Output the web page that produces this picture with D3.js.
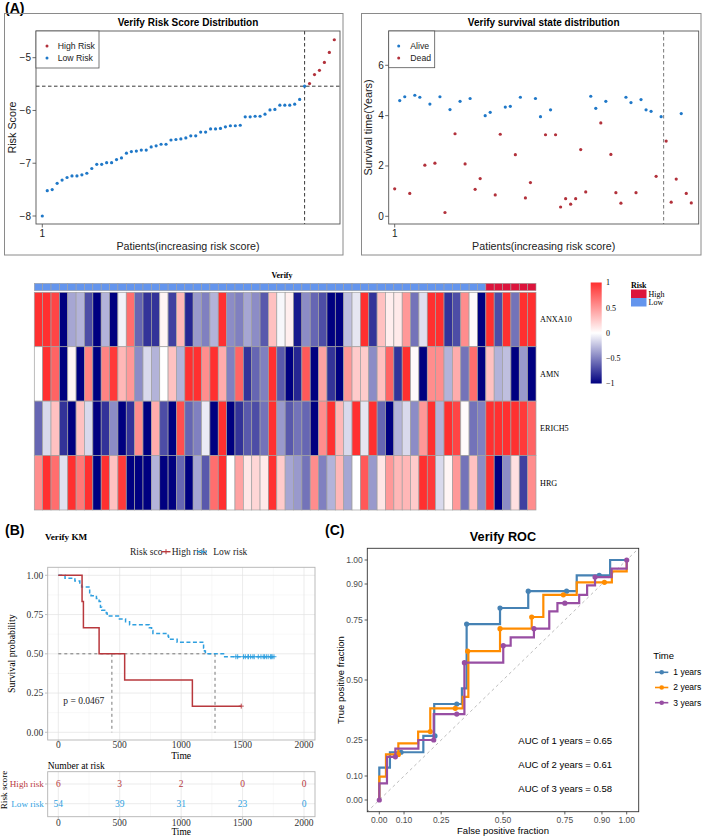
<!DOCTYPE html>
<html><head><meta charset="utf-8">
<script src="https://cdn.jsdelivr.net/npm/d3@7"></script>
<style>body{margin:0;background:#fff} svg{display:block}</style>
</head><body>
<svg id="c" width="702" height="836"></svg>
<script>
// ---------------- DATA ----------------
const riskScore = [-8.00,-7.52,-7.50,-7.38,-7.32,-7.27,-7.24,-7.24,-7.22,-7.19,
  -7.10,-7.02,-7.02,-6.99,-6.99,-6.93,-6.90,-6.81,-6.78,-6.77,
  -6.75,-6.75,-6.69,-6.67,-6.64,-6.64,-6.56,-6.55,-6.54,-6.52,
  -6.48,-6.48,-6.41,-6.41,-6.35,-6.35,-6.34,-6.31,-6.29,-6.29,
  -6.28,-6.12,-6.12,-6.11,-6.11,-6.07,-5.99,-5.98,-5.90,-5.90,
  -5.90,-5.88,-5.79,-5.54,-5.49,-5.32,-5.24,-5.09,-4.90,-4.66];
const lowRiskCount = 54;
const riskCutoff = -5.54;
const riskTicks = [-8,-7,-6,-5];
const survYears = [1.09,4.60,4.75,0.91,4.81,4.73,2.03,4.46,2.11,4.75,
  0.15,4.24,3.28,4.57,2.08,4.68,1.07,1.50,4.00,4.13,
  0.85,3.26,4.34,4.37,2.45,4.73,0.73,1.34,4.68,3.96,
  3.24,4.23,3.24,0.37,0.70,0.48,0.70,2.65,0.97,4.77,
  4.29,3.71,4.57,2.46,0.94,0.52,4.73,4.52,0.94,4.64,
  4.23,4.17,1.59,3.96,2.99,0.56,1.48,4.08,0.91,0.53];
const survStatus = [1,0,0,1,0,0,1,0,1,0, 1,0,1,0,1,0,1,1,0,0,
  1,1,0,0,1,0,1,1,0,0, 1,0,1,1,1,1,1,1,1,0,
  0,1,0,1,1,1,0,0,1,0, 0,0,1,0,1,1,1,0,1,1];
const survTicks = [0,2,4,6];

const genes = ["ANXA10","AMN","ERICH5","HRG"];
const exprANXA10 = [1,1,0.9,-1,-0.35,-0.3,-0.7,-1,-0.3,-1,-0.05,0.7,-0.6,-0.8,-0.8,0.05,-0.75,0.35,-0.85,-0.4,
  -0.5,-0.3,1,-0.45,-0.5,-0.35,-0.45,-0.65,0.3,-0.03,0.08,-0.9,-0.45,-0.6,-0.7,-1,-1,-0.25,-0.1,1,
  -0.8,0.3,0.08,0.1,0.5,-0.55,-0.12,1,1,-0.8,-0.7,0.55,0.02,-1,1,-0.7,1,-0.55,1,1];
const exprAMN = [0,1,0.75,-1,0.05,-1,0.6,-1,0.6,0.95,0.35,0.5,-0.45,-0.15,-0.3,0,0.3,-0.3,1,1,
  0.55,1,0.4,-0.5,0.75,-0.8,-0.6,-0.5,1,-0.65,-1,-0.85,0.8,-1,0.45,-0.8,-1,0.5,0.25,0.25,
  -0.45,0.3,0.75,-0.8,1,0.02,-1,0.55,0.55,-0.3,0.4,-0.55,0.7,-1,0.3,-0.3,-0.25,-1,-0.4,-1];
const exprERICH5 = [-0.6,-0.15,0.3,-0.8,-1,0.3,-0.15,-1,-0.8,-0.45,-1,-0.8,0.55,-1,0.4,-0.7,-1,0.85,-0.6,-0.5,
  -0.08,-1,1,-1,-0.8,-0.65,-0.7,-0.55,1,-0.4,-0.65,-0.55,-0.6,-1,0.55,1,0.35,-0.15,1,-0.1,
  1,-0.6,-1,-0.3,-0.15,-0.45,0.5,1,-0.3,1,0.9,0.02,-0.55,-0.5,1,1,1,1,0.95,0.75];
const exprHRG = [0.55,1,0.7,-0.12,1,0.65,1,-1,1,0.3,0.95,-1,-1,-1,-0.3,-1,-1,-0.6,-1,-0.35,
  -0.65,0.7,1,0,0.45,0.12,0.2,0.1,1,0.25,-0.35,-0.4,-0.55,0.55,-0.5,-0.3,0.35,-0.35,0,0.8,
  -0.4,0.12,0.5,0.35,0.35,0.25,1,0.95,-0.15,0.05,0.5,-0.55,0.3,-0.45,1,-1,-0.45,0.15,-0.75,0.55];
const legendTicks = [1,0.5,0,-0.5,-1];

const kmTicks = [0,500,1000,1500,2000];
const kmYTicks = [0,0.25,0.5,0.75,1];
const atRiskHigh = [6,3,2,0,0];
const atRiskLow = [54,39,31,23,0];
const pValueText = "p = 0.0467";
const daysPerYear = 365;

const rocTicks = [0,0.1,0.25,0.5,0.75,0.9,1];
const roc1Path = [[0,0],[0,0.135],[0.043,0.199],[0.178,0.267],[0.222,0.40],[0.334,0.465],[0.353,0.733],[0.488,0.80],[0.602,0.87],[0.798,0.936],[0.933,1.0],[1,1]];
const roc1Pts = [[0.088,0.199],[0.225,0.267],[0.313,0.40],[0.353,0.733],[0.488,0.80],[0.602,0.87],[0.757,0.87],[0.889,0.936]];
const roc2Path = [[0,0],[0,0.097],[0.027,0.19],[0.077,0.236],[0.157,0.285],[0.206,0.382],[0.337,0.43],[0.36,0.62],[0.488,0.714],[0.616,0.7625],[0.663,0.855],[0.798,0.907],[0.94,0.953],[1,1]];
const roc2Pts = [[0.077,0.19],[0.206,0.285],[0.307,0.382],[0.357,0.62],[0.488,0.714],[0.616,0.7625],[0.744,0.855],[0.91,0.907]];
const roc3Path = [[0,0],[0,0.069],[0.031,0.18],[0.065,0.214],[0.158,0.25],[0.22,0.358],[0.344,0.572],[0.501,0.643],[0.531,0.678],[0.625,0.714],[0.687,0.786],[0.72,0.82],[0.808,0.855],[0.84,0.894],[0.872,0.929],[0.939,0.964],[1,1]];
const roc3Pts = [[0,0],[0.065,0.18],[0.22,0.25],[0.313,0.358],[0.344,0.572],[0.501,0.643],[0.625,0.714],[0.75,0.82],[0.872,0.929],[1,1]];
const rocLabels = ["1 years","2 years","3 years"];
const aucValues = [0.65,0.61,0.58];

// ---------------- DRAW ----------------
const svg = d3.select("#c");
const SANS = "Liberation Sans, Arial, sans-serif";
const SERIF = "Liberation Serif, Times New Roman, serif";
const BLUE = "#1f78c8", RED = "#b2313b";

function txt(g, x, y, s, o = {}) {
  const t = g.append("text").attr("x", x).attr("y", y).attr("dy", "0.35em")
    .attr("font-family", o.ff || SANS).attr("font-size", o.fs || 10)
    .attr("text-anchor", o.anchor || "start").attr("fill", o.fill || "#000")
    .text(s);
  if (o.bold) t.attr("font-weight", "bold");
  if (o.rot) t.attr("transform", `rotate(${o.rot},${x},${y})`);
  return t;
}
function line(g, x1, y1, x2, y2, stroke, w, dash) {
  const l = g.append("line").attr("x1", x1).attr("y1", y1).attr("x2", x2).attr("y2", y2)
    .attr("stroke", stroke).attr("stroke-width", w);
  if (dash) l.attr("stroke-dasharray", dash);
  return l;
}

const idx = d3.range(riskScore.length);
const groupOf = i => (i < lowRiskCount ? "Low" : "High");

// panel labels
txt(svg, 5, 8, "(A)", {fs: 14, bold: true});
txt(svg, 5, 530, "(B)", {fs: 14, bold: true});
txt(svg, 325, 530, "(C)", {fs: 14, bold: true});

// ---- A1: risk score distribution ----
{
  const g = svg.append("g");
  g.append("rect").attr("x", 4.5).attr("y", 13.5).attr("width", 338.5).attr("height", 241.5)
    .attr("fill", "none").attr("stroke", "#8a8a8a").attr("stroke-width", 1);
  const x = d3.scaleLinear().domain([1, 60]).range([42.3, 334.3]);
  const y = d3.scaleLinear().domain([-8, -5]).range([216, 57.7]);
  const L = 36, R = 340, T = 31, B = 224;
  txt(g, (L + R) / 2, 22, "Verify Risk Score Distribution", {fs: 10, bold: true, anchor: "middle"});
  riskTicks.forEach(v => {
    line(g, L - 3.5, y(v), L, y(v), "#444", 0.8);
    txt(g, L - 5, y(v), "\u2212" + Math.abs(v), {fs: 10, anchor: "end", fill: "#222"});
  });
  line(g, x(1), B, x(1), B + 3.5, "#444", 0.8);
  txt(g, x(1), B + 9, "1", {fs: 10, anchor: "middle", fill: "#222"});
  txt(g, 12.7, (T + B) / 2, "Risk Score", {fs: 10.8, anchor: "middle", rot: -90, fill: "#222"});
  txt(g, (L + R) / 2, 246, "Patients(increasing risk score)", {fs: 10.7, anchor: "middle", fill: "#222"});
  line(g, L, y(riskCutoff), R, y(riskCutoff), "#222", 0.9, "3.5,2.5");
  line(g, x(lowRiskCount), T, x(lowRiskCount), B, "#222", 0.9, "3.5,2.5");
  g.selectAll("circle.p").data(idx).join("circle")
    .attr("cx", i => x(i + 1)).attr("cy", i => y(riskScore[i])).attr("r", 1.6)
    .attr("fill", i => groupOf(i) === "Low" ? BLUE : RED);
  g.append("rect").attr("x", L).attr("y", T).attr("width", R - L).attr("height", B - T)
    .attr("fill", "none").attr("stroke", "#555").attr("stroke-width", 0.9);
  // legend
  g.append("rect").attr("x", L).attr("y", T).attr("width", 63).attr("height", 37)
    .attr("fill", "#fff").attr("stroke", "#555").attr("stroke-width", 0.8);
  [["High Risk", RED], ["Low Risk", BLUE]].forEach((d, k) => {
    g.append("circle").attr("cx", 47).attr("cy", 46 + k * 12).attr("r", 1.5).attr("fill", d[1]);
    txt(g, 57.7, 46 + k * 12, d[0], {fs: 8.7, fill: "#222"});
  });
}

// ---- A2: survival state distribution ----
{
  const g = svg.append("g");
  g.append("rect").attr("x", 361.5).attr("y", 13.5).attr("width", 339.5).attr("height", 241.5)
    .attr("fill", "none").attr("stroke", "#8a8a8a").attr("stroke-width", 1);
  const x = d3.scaleLinear().domain([1, 60]).range([394.7, 691.3]);
  const y = d3.scaleLinear().domain([0, 6]).range([216.3, 65.3]);
  const L = 388.7, R = 698.7, T = 31, B = 224;
  txt(g, (L + R) / 2, 22, "Verify survival state distribution", {fs: 10, bold: true, anchor: "middle"});
  survTicks.forEach(v => {
    line(g, L - 3.5, y(v), L, y(v), "#444", 0.8);
    txt(g, L - 5, y(v), String(v), {fs: 10, anchor: "end", fill: "#222"});
  });
  line(g, x(1), B, x(1), B + 3.5, "#444", 0.8);
  txt(g, x(1), B + 9, "1", {fs: 10, anchor: "middle", fill: "#222"});
  txt(g, 368.7, (T + B) / 2, "Survival time(Years)", {fs: 10.8, anchor: "middle", rot: -90, fill: "#222"});
  txt(g, (L + R) / 2, 246, "Patients(increasing risk score)", {fs: 10.7, anchor: "middle", fill: "#222"});
  line(g, x(lowRiskCount + 0.5), T, x(lowRiskCount + 0.5), B, "#777", 1, "3.5,2.5");
  g.selectAll("circle.p").data(idx).join("circle")
    .attr("cx", i => x(i + 1)).attr("cy", i => y(survYears[i])).attr("r", 1.6)
    .attr("fill", i => survStatus[i] === 1 ? RED : BLUE);
  g.append("rect").attr("x", L).attr("y", T).attr("width", R - L).attr("height", B - T)
    .attr("fill", "none").attr("stroke", "#555").attr("stroke-width", 0.9);
  g.append("rect").attr("x", L).attr("y", T).attr("width", 46).attr("height", 36.7)
    .attr("fill", "#fff").attr("stroke", "#555").attr("stroke-width", 0.8);
  [["Alive", BLUE], ["Dead", RED]].forEach((d, k) => {
    g.append("circle").attr("cx", 398.7).attr("cy", 46 + k * 12).attr("r", 1.5).attr("fill", d[1]);
    txt(g, 410.3, 46 + k * 12, d[0], {fs: 8.7, fill: "#222"});
  });
}

// ---- A3: heatmap ----
{
  const g = svg.append("g");
  const exprRows = [exprANXA10, exprAMN, exprERICH5, exprHRG];
  const x = d3.scaleBand().domain(idx).range([34.3, 536]);
  const y = d3.scaleBand().domain(genes).range([292.3, 510]);
  const color = d3.scaleLinear().domain([-1, 0, 1]).range(["#000080", "#ffffff", "#ff3030"]).clamp(true);
  const annColor = {Low: "#6495ed", High: "#dc143c"};
  txt(g, 282, 275, "Verify", {ff: SERIF, fs: 8, bold: true, anchor: "middle"});
  g.selectAll("rect.ann").data(idx).join("rect")
    .attr("x", i => x(i)).attr("y", 283.3).attr("width", x.bandwidth()).attr("height", 7.4)
    .attr("fill", i => annColor[groupOf(i)]).attr("stroke", "#a0a0a0").attr("stroke-width", 0.6);
  const cells = [];
  genes.forEach((gname, r) => idx.forEach(i => cells.push({g: gname, i, v: exprRows[r][i]})));
  g.selectAll("rect.cell").data(cells).join("rect")
    .attr("x", d => x(d.i)).attr("y", d => y(d.g)).attr("width", x.bandwidth()).attr("height", y.bandwidth())
    .attr("fill", d => color(d.v)).attr("stroke", "#a0a0a0").attr("stroke-width", 0.7);
  genes.forEach(gname => txt(g, 540, y(gname) + y.bandwidth() / 2, gname, {ff: SERIF, fs: 8.2}));
  // colour bar
  const defs = svg.append("defs");
  const grad = defs.append("linearGradient").attr("id", "hm").attr("x1", 0).attr("y1", 0).attr("x2", 0).attr("y2", 1);
  [[0, 1], [0.5, 0], [1, -1]].forEach(s => grad.append("stop").attr("offset", s[0]).attr("stop-color", color(s[1])));
  const ly = d3.scaleLinear().domain([-1, 1]).range([383.5, 282.5]);
  g.append("rect").attr("x", 590.7).attr("y", ly(1)).attr("width", 11).attr("height", ly(-1) - ly(1)).attr("fill", "url(#hm)");
  legendTicks.forEach(v => txt(g, 606, ly(v), v < 0 ? "\u2212" + Math.abs(v) : String(v), {ff: SERIF, fs: 8}));
  txt(g, 631, 285, "Risk", {ff: SERIF, fs: 8, bold: true});
  [["High", annColor.High], ["Low", annColor.Low]].forEach((d, k) => {
    g.append("rect").attr("x", 631).attr("y", 289.5 + k * 8.5).attr("width", 15.5).attr("height", 8.5).attr("fill", d[1]);
    txt(g, 648.5, 293.8 + k * 8.5, d[0], {ff: SERIF, fs: 8});
  });
}

// ---- B: Kaplan-Meier ----
function kmFit(times, status) {
  const ord = d3.range(times.length).sort((a, b) => times[a] - times[b]);
  let nrisk = times.length, S = 1;
  const steps = [[0, 1]], censors = [], deaths = [];
  const uniq = Array.from(new Set(ord.map(i => times[i])));
  uniq.forEach(t => {
    const at = ord.filter(i => times[i] === t);
    const d = at.filter(i => status[i] === 1).length;
    if (d > 0) { S = S * (1 - d / nrisk); steps.push([t, S]); deaths.push([t, S]); }
    if (at.length - d > 0) censors.push([t, S]);
    nrisk -= at.length;
  });
  steps.push([d3.max(times), S]);
  let med = null;
  for (let k = 0; k < deaths.length; k++) {
    if (deaths[k][1] <= 0.5 + 1e-9) {
      med = (Math.abs(deaths[k][1] - 0.5) < 1e-9 && k + 1 < deaths.length) ? (deaths[k][0] + deaths[k + 1][0]) / 2 : deaths[k][0];
      break;
    }
  }
  return {steps, censors, med};
}
{
  const g = svg.append("g");
  const KRED = "#b8383d", KBLUE = "#2e9fdf";
  const L = 47.7, R = 315, T = 567.3, B = 740;
  const x = d3.scaleLinear().domain([0, 2000]).range([58.3, 304]);
  const y = d3.scaleLinear().domain([0, 1]).range([732.3, 575.3]);
  txt(g, 45, 536.7, "Verify KM", {ff: SERIF, fs: 9.2, bold: true});
  // legend
  txt(g, 130, 551.7, "Risk sco", {ff: SERIF, fs: 9.5, fill: "#222"});
  line(g, 161.5, 551.7, 170.5, 551.7, KRED, 1.4);
  line(g, 166, 549.2, 166, 554.2, KRED, 1);
  txt(g, 171.7, 551.7, "High risk", {ff: SERIF, fs: 9.5, fill: "#222"});
  line(g, 197, 551.7, 207, 551.7, KBLUE, 1.4, "3,1.5");
  line(g, 202, 549.2, 202, 554.2, KBLUE, 1);
  txt(g, 213.3, 551.7, "Low risk", {ff: SERIF, fs: 9.5, fill: "#222"});
  // grid
  const minorX = [250, 750, 1250, 1750], minorY = [0.125, 0.375, 0.625, 0.875];
  minorX.forEach(v => line(g, x(v), T, x(v), B, "#f0f0f0", 0.5));
  minorY.forEach(v => line(g, L, y(v), R, y(v), "#f0f0f0", 0.5));
  kmTicks.forEach(v => line(g, x(v), T, x(v), B, "#e3e3e3", 0.7));
  kmYTicks.forEach(v => line(g, L, y(v), R, y(v), "#e3e3e3", 0.7));
  g.append("rect").attr("x", L).attr("y", T).attr("width", R - L).attr("height", B - T)
    .attr("fill", "none").attr("stroke", "#b3b3b3").attr("stroke-width", 0.9);
  kmYTicks.forEach(v => {
    line(g, L - 2.7, y(v), L, y(v), "#b3b3b3", 0.8);
    txt(g, L - 4.5, y(v), v.toFixed(2), {ff: SERIF, fs: 9.5, anchor: "end", fill: "#333"});
  });
  kmTicks.forEach(v => {
    line(g, x(v), B, x(v), B + 2.7, "#b3b3b3", 0.8);
    txt(g, x(v), 745, String(v), {ff: SERIF, fs: 9.5, anchor: "middle", fill: "#333"});
  });
  txt(g, x(1000), 755.3, "Time", {ff: SERIF, fs: 9.6, anchor: "middle"});
  txt(g, 11.7, (T + B) / 2, "Survival probability", {ff: SERIF, fs: 9.8, anchor: "middle", rot: -90});
  // fits
  const days = survYears.map(v => v * daysPerYear);
  const hiI = idx.filter(i => groupOf(i) === "High"), loI = idx.filter(i => groupOf(i) === "Low");
  const fitHi = kmFit(hiI.map(i => days[i]), hiI.map(i => survStatus[i]));
  const fitLo = kmFit(loI.map(i => days[i]), loI.map(i => survStatus[i]));
  // median lines
  const medMax = d3.max([fitHi.med, fitLo.med]);
  line(g, x(0), y(0.5), x(medMax), y(0.5), "#555", 0.8, "3,3");
  [fitHi.med, fitLo.med].forEach(m => line(g, x(m), y(0.5), x(m), y(0), "#555", 0.8, "3,3"));
  const path = d3.line().x(d => x(d[0])).y(d => y(d[1])).curve(d3.curveStepAfter);
  g.append("path").attr("d", path(fitLo.steps)).attr("fill", "none").attr("stroke", KBLUE)
    .attr("stroke-width", 1.5).attr("stroke-dasharray", "4,2.5");
  g.append("path").attr("d", path(fitHi.steps)).attr("fill", "none").attr("stroke", KRED).attr("stroke-width", 1.5);
  [[fitLo, KBLUE], [fitHi, KRED]].forEach(([f, c]) => f.censors.forEach(d => {
    line(g, x(d[0]) - 2.5, y(d[1]), x(d[0]) + 2.5, y(d[1]), c, 0.9);
    line(g, x(d[0]), y(d[1]) - 2.5, x(d[0]), y(d[1]) + 2.5, c, 0.9);
  }));
  txt(g, 63.3, 700.7, pValueText, {ff: SERIF, fs: 9.5, fill: "#222"});

  // risk table
  const TT = 771.7, TB = 816.7;
  const rowY = {High: 784, Low: 803.7};
  txt(g, 47.7, 765.7, "Number at risk", {ff: SERIF, fs: 9.5});
  minorX.forEach(v => line(g, x(v), TT, x(v), TB, "#f0f0f0", 0.5));
  kmTicks.forEach(v => line(g, x(v), TT, x(v), TB, "#e3e3e3", 0.7));
  Object.values(rowY).forEach(v => line(g, L, v, R, v, "#e3e3e3", 0.7));
  g.append("rect").attr("x", L).attr("y", TT).attr("width", R - L).attr("height", TB - TT)
    .attr("fill", "none").attr("stroke", "#b3b3b3").attr("stroke-width", 0.9);
  [["High risk", atRiskHigh, KRED, rowY.High], ["Low risk", atRiskLow, KBLUE, rowY.Low]].forEach(([lab, vals, c, yy]) => {
    line(g, L - 2.7, yy, L, yy, "#b3b3b3", 0.8);
    txt(g, L - 3.8, yy, lab, {ff: SERIF, fs: 9.1, anchor: "end", fill: c});
    vals.forEach((v, k) => txt(g, x(kmTicks[k]), yy, String(v), {ff: SERIF, fs: 9.5, anchor: "middle", fill: c}));
  });
  kmTicks.forEach(v => {
    line(g, x(v), TB, x(v), TB + 2.7, "#b3b3b3", 0.8);
    txt(g, x(v), 822.5, String(v), {ff: SERIF, fs: 9.5, anchor: "middle", fill: "#333"});
  });
  txt(g, x(1000), 832, "Time", {ff: SERIF, fs: 9.4, anchor: "middle"});
  txt(g, 3.8, 790, "Risk score", {ff: SERIF, fs: 9.2, anchor: "middle", rot: -90});
}

// ---- C: ROC ----
{
  const g = svg.append("g");
  const L = 367.3, R = 638.7, T = 548.3, B = 811.7;
  const x = d3.scaleLinear().domain([0, 1]).range([379.3, 626.7]);
  const y = d3.scaleLinear().domain([0, 1]).range([800, 560]);
  const cols = ["#4682b4", "#ff8c00", "#984ea3"];
  txt(g, (L + R) / 2, 536.7, "Verify ROC", {fs: 12.7, bold: true, anchor: "middle"});
  g.append("line").attr("x1", x(-0.05)).attr("y1", y(-0.05)).attr("x2", x(1.05)).attr("y2", y(1.05))
    .attr("stroke", "#bdbdbd").attr("stroke-width", 1).attr("stroke-dasharray", "3,3");
  const path = d3.line().x(d => x(d[0])).y(d => y(d[1])).curve(d3.curveStepAfter);
  [[roc1Path, roc1Pts], [roc2Path, roc2Pts], [roc3Path, roc3Pts]].forEach(([p, pts], k) => {
    g.append("path").attr("d", path(p)).attr("fill", "none").attr("stroke", cols[k]).attr("stroke-width", 2.2);
    g.selectAll(null).data(pts).join("circle").attr("cx", d => x(d[0])).attr("cy", d => y(d[1]))
      .attr("r", 2.6).attr("fill", cols[k]);
  });
  g.append("rect").attr("x", L).attr("y", T).attr("width", R - L).attr("height", B - T)
    .attr("fill", "none").attr("stroke", "#333").attr("stroke-width", 0.9);
  const fmt = d3.format(".2f");
  rocTicks.forEach(v => {
    line(g, L - 2.7, y(v), L, y(v), "#333", 0.8);
    txt(g, L - 4.5, y(v), fmt(v), {fs: 8.5, anchor: "end", fill: "#4d4d4d"});
    line(g, x(v), B, x(v), B + 2.7, "#333", 0.8);
    txt(g, x(v), 820, fmt(v), {fs: 8.5, anchor: "middle", fill: "#4d4d4d"});
  });
  txt(g, (L + R) / 2, 830.5, "False positive fraction", {fs: 9.5, anchor: "middle"});
  txt(g, 340.7, (T + B) / 2, "True positive fraction", {fs: 9.5, anchor: "middle", rot: -90});
  aucValues.forEach((a, k) => txt(g, 518.3, 740.7 + k * 24.2, `AUC of ${rocLabels[k]} = ${a.toFixed(2)}`, {fs: 9.5}));
  txt(g, 653.3, 655.7, "Time", {fs: 9.5});
  rocLabels.forEach((lab, k) => {
    const yy = 672.3 + k * 15.2;
    line(g, 655, yy, 668.3, yy, cols[k], 1.6);
    g.append("circle").attr("cx", 661.7).attr("cy", yy).attr("r", 2.3).attr("fill", cols[k]);
    txt(g, 673.3, yy, lab, {fs: 8.5});
  });
}
</script>
</body></html>
